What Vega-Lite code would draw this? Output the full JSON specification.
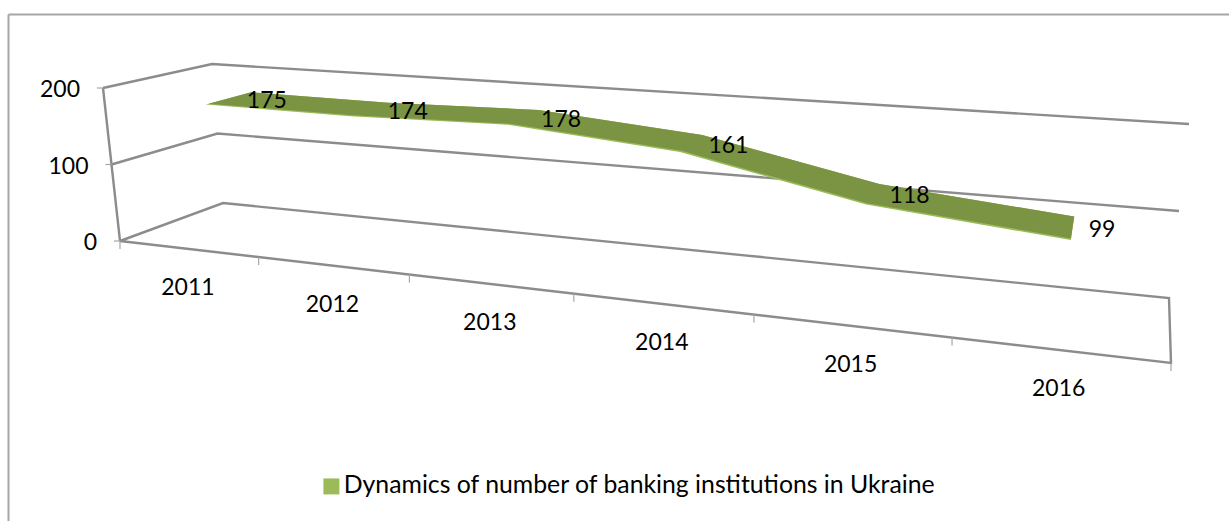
{
  "$schema": "https://vega.github.io/schema/vega-lite/v6.json",
  "width": 1221,
  "height": 507,
  "autosize": "none",
  "padding": {"left": 8, "top": 14, "right": 0, "bottom": 0},
  "background": "white",
  "config": {
    "view": {"stroke": null},
    "font": "Lato",
    "text": {"font": "Lato", "fontSize": 23, "fill": "#000000"}
  },
  "datasets": {
    "banks": [
      {"year": 2011, "institutions": 175},
      {"year": 2012, "institutions": 174},
      {"year": 2013, "institutions": 178},
      {"year": 2014, "institutions": 161},
      {"year": 2015, "institutions": 118},
      {"year": 2016, "institutions": 99}
    ],
    "frame": [
      {"edge": "wall200", "seq": 1, "t": 0, "d": 0, "level": 200},
      {"edge": "wall200", "seq": 2, "t": 0, "d": 1, "level": 200},
      {"edge": "wall200", "seq": 3, "t": 1, "d": 1, "level": 200},
      {"edge": "wall100", "seq": 1, "t": 0, "d": 0, "level": 100},
      {"edge": "wall100", "seq": 2, "t": 0, "d": 1, "level": 100},
      {"edge": "wall100", "seq": 3, "t": 1, "d": 1, "level": 100},
      {"edge": "floor", "seq": 1, "t": 0, "d": 0, "level": 0},
      {"edge": "floor", "seq": 2, "t": 0, "d": 1, "level": 0},
      {"edge": "floor", "seq": 3, "t": 1, "d": 1, "level": 0},
      {"edge": "floor", "seq": 4, "t": 1, "d": 0, "level": 0},
      {"edge": "floor", "seq": 5, "t": 0, "d": 0, "level": 0},
      {"edge": "axis", "seq": 1, "t": 0, "d": 0, "level": 0},
      {"edge": "axis", "seq": 2, "t": 0, "d": 0, "level": 200}
    ],
    "levels": [
      {"level": 0},
      {"level": 100},
      {"level": 200}
    ],
    "boundaries": [
      {"slot": 0}, {"slot": 1}, {"slot": 2}, {"slot": 3}, {"slot": 4}, {"slot": 5}, {"slot": 6}
    ]
  },
  "layer": [
    {
      "description": "Walls, floor and value axis of the oblique chart box; the two hidden axes only draw the chart area's top and left border",
      "data": {"name": "frame"},
      "transform": [
        {"calculate": "0.76*datum.t/(1-0.24*datum.t)", "as": "s"},
        {"calculate": "(1-datum.d)*(120+1051*datum.s)+datum.d*(223+946*datum.s)+((1-datum.d)*(-17+41*datum.s)+datum.d*(-11+31*datum.s))*datum.level/200", "as": "px"},
        {"calculate": "(1-datum.d)*(241+122*datum.s)+datum.d*(203+95*datum.s)+((1-datum.d)*(-153-42*datum.s)+datum.d*(-139-35*datum.s))*datum.level/200", "as": "py"}
      ],
      "mark": {"type": "line", "stroke": "#8c8c8c", "strokeWidth": 2.4, "strokeJoin": "miter"},
      "encoding": {
        "x": {
          "field": "px",
          "type": "quantitative",
          "scale": {"domain": [8, 1229], "nice": false, "zero": false},
          "axis": {"orient": "top", "domain": true, "domainColor": "#a6a6a6", "domainWidth": 2, "ticks": false, "labels": false, "grid": false, "title": null}
        },
        "y": {
          "field": "py",
          "type": "quantitative",
          "scale": {"domain": [521, 14], "nice": false, "zero": false},
          "axis": {"orient": "left", "domain": true, "domainColor": "#a6a6a6", "domainWidth": 2, "ticks": false, "labels": false, "grid": false, "title": null}
        },
        "detail": {"field": "edge"},
        "order": {"field": "seq", "type": "quantitative"}
      }
    },
    {
      "description": "Tick marks under the front edge, one at each category boundary",
      "data": {"name": "boundaries"},
      "transform": [
        {"calculate": "datum.slot/6", "as": "t"},
        {"calculate": "0.76*datum.t/(1-0.24*datum.t)", "as": "s"},
        {"calculate": "120+1051*datum.s", "as": "px"},
        {"calculate": "241+122*datum.s", "as": "py"},
        {"calculate": "datum.py+8", "as": "pyEnd"}
      ],
      "mark": {"type": "rule", "stroke": "#a6a6a6", "strokeWidth": 1.2},
      "encoding": {
        "x": {"field": "px", "type": "quantitative"},
        "y": {"field": "py", "type": "quantitative"},
        "y2": {"field": "pyEnd"}
      }
    },
    {
      "description": "Short ticks on the value axis",
      "data": {"name": "levels"},
      "transform": [
        {"calculate": "120-17*datum.level/200", "as": "px"},
        {"calculate": "241-153*datum.level/200", "as": "py"},
        {"calculate": "datum.px-6", "as": "pxEnd"}
      ],
      "mark": {"type": "rule", "stroke": "#a6a6a6", "strokeWidth": 1.2},
      "encoding": {
        "x": {"field": "px", "type": "quantitative"},
        "x2": {"field": "pxEnd"},
        "y": {"field": "py", "type": "quantitative"}
      }
    },
    {
      "description": "Value axis labels",
      "data": {"name": "levels"},
      "transform": [
        {"calculate": "120-17*datum.level/200", "as": "px"},
        {"calculate": "241-153*datum.level/200", "as": "py"}
      ],
      "mark": {"type": "text", "align": "right", "baseline": "middle", "dx": -23, "dy": 2},
      "encoding": {
        "x": {"field": "px", "type": "quantitative"},
        "y": {"field": "py", "type": "quantitative"},
        "text": {"field": "level", "type": "quantitative"}
      }
    },
    {
      "description": "Year labels below the front edge",
      "data": {"name": "banks"},
      "transform": [
        {"calculate": "(datum.year-2011+0.5)/6", "as": "t"},
        {"calculate": "0.76*datum.t/(1-0.24*datum.t)", "as": "s"},
        {"calculate": "120+1051*datum.s", "as": "px"},
        {"calculate": "241+122*datum.s", "as": "py"}
      ],
      "mark": {"type": "text", "align": "center", "baseline": "middle", "dy": 39},
      "encoding": {
        "x": {"field": "px", "type": "quantitative"},
        "y": {"field": "py", "type": "quantitative"},
        "text": {"field": "year", "type": "nominal"}
      }
    },
    {
      "description": "Full ribbon in the series colour; its front sliver stays visible as the lit edge",
      "data": {"name": "banks"},
      "transform": [
        {"calculate": "'Dynamics of number of banking institutions in Ukraine'", "as": "series"},
        {"calculate": "(datum.year-2011+0.5)/6", "as": "t"},
        {"calculate": "[0.30,0.75]", "as": "d"},
        {"flatten": ["d"]},
        {"calculate": "datum.d<0.5 ? datum.year : 5000-datum.year", "as": "trace"},
        {"calculate": "0.76*datum.t/(1-0.24*datum.t)", "as": "s"},
        {"calculate": "(1-datum.d)*(120+1051*datum.s)+datum.d*(223+946*datum.s)+((1-datum.d)*(-17+41*datum.s)+datum.d*(-11+31*datum.s))*datum.institutions/200", "as": "px"},
        {"calculate": "(1-datum.d)*(241+122*datum.s)+datum.d*(203+95*datum.s)+((1-datum.d)*(-153-42*datum.s)+datum.d*(-139-35*datum.s))*datum.institutions/200", "as": "py"}
      ],
      "mark": {"type": "line", "interpolate": "linear-closed", "strokeWidth": 0},
      "encoding": {
        "x": {"field": "px", "type": "quantitative"},
        "y": {"field": "py", "type": "quantitative"},
        "order": {"field": "trace", "type": "quantitative"},
        "fill": {
          "field": "series",
          "type": "nominal",
          "scale": {"range": ["#9bbb59"]},
          "legend": {
            "orient": "none",
            "legendX": 311,
            "legendY": 460,
            "title": null,
            "symbolType": "square",
            "symbolSize": 256,
            "symbolStrokeWidth": 0,
            "labelFont": "Lato",
            "labelFontSize": 24.8,
            "labelColor": "#000000",
            "labelLimit": 700,
            "labelOffset": 0
          }
        }
      }
    },
    {
      "description": "Darker upper face of the ribbon",
      "data": {"name": "banks"},
      "transform": [
        {"calculate": "(datum.year-2011+0.5)/6", "as": "t"},
        {"calculate": "[0.33,0.75]", "as": "d"},
        {"flatten": ["d"]},
        {"calculate": "datum.d<0.5 ? datum.year : 5000-datum.year", "as": "trace"},
        {"calculate": "0.76*datum.t/(1-0.24*datum.t)", "as": "s"},
        {"calculate": "(1-datum.d)*(120+1051*datum.s)+datum.d*(223+946*datum.s)+((1-datum.d)*(-17+41*datum.s)+datum.d*(-11+31*datum.s))*datum.institutions/200", "as": "px"},
        {"calculate": "(1-datum.d)*(241+122*datum.s)+datum.d*(203+95*datum.s)+((1-datum.d)*(-153-42*datum.s)+datum.d*(-139-35*datum.s))*datum.institutions/200", "as": "py"}
      ],
      "mark": {"type": "line", "interpolate": "linear-closed", "strokeWidth": 0, "fill": "#7a9444"},
      "encoding": {
        "x": {"field": "px", "type": "quantitative"},
        "y": {"field": "py", "type": "quantitative"},
        "order": {"field": "trace", "type": "quantitative"}
      }
    },
    {
      "description": "Data labels, each stating the value its ribbon vertex is drawn from",
      "data": {"name": "banks"},
      "transform": [
        {"calculate": "(datum.year-2011+0.5)/6", "as": "t"},
        {"calculate": "0.55", "as": "d"},
        {"calculate": "0.76*datum.t/(1-0.24*datum.t)", "as": "s"},
        {"calculate": "(1-datum.d)*(120+1051*datum.s)+datum.d*(223+946*datum.s)+((1-datum.d)*(-17+41*datum.s)+datum.d*(-11+31*datum.s))*datum.institutions/200", "as": "px"},
        {"calculate": "(1-datum.d)*(241+122*datum.s)+datum.d*(203+95*datum.s)+((1-datum.d)*(-153-42*datum.s)+datum.d*(-139-35*datum.s))*datum.institutions/200", "as": "py"}
      ],
      "mark": {"type": "text", "align": "left", "baseline": "middle", "dx": 16, "dy": 3},
      "encoding": {
        "x": {"field": "px", "type": "quantitative"},
        "y": {"field": "py", "type": "quantitative"},
        "text": {"field": "institutions", "type": "quantitative"}
      }
    }
  ]
}
